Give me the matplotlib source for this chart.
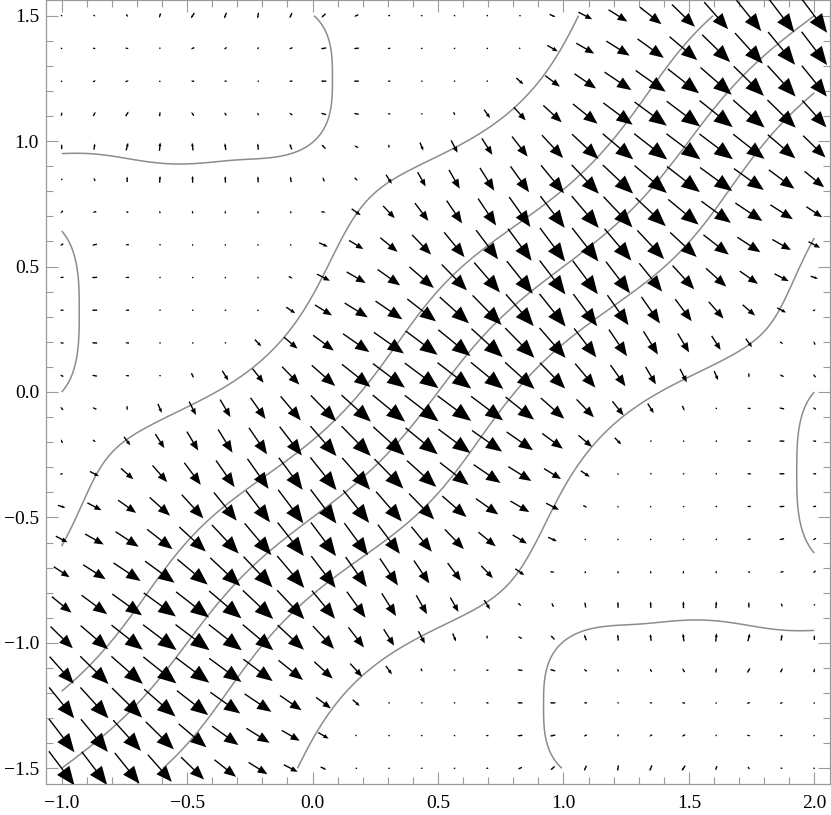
import numpy as np
import matplotlib
matplotlib.use("Agg")
import matplotlib.pyplot as plt
from matplotlib.ticker import MultipleLocator, FuncFormatter

# sample points of the arrows (24 x 24, as in the picture)
grid_x = np.linspace(-1.0, 2.0, 24)
grid_y = np.linspace(-1.5, 1.5, 24)

# ridge of the field
band_shift = 0.5      # centre contour runs along y = x - 0.5
band_sigma = 1.15     # distance from the centre where the arrows die out
wiggle_mid = 0.045    # sideways wiggle of the inner contours
wiggle_edge = 0.06    # extra wiggle of the outer contours
contour_levels = [-0.668, -0.334, 0.0, 0.334, 0.668]

# shallow dips in the upper-left corner (mirrored into the lower-right one)
bump_x = [-0.3, -1.1, -1.2]
bump_y = [1.25, 1.45, 0.32]
bump_rx = [0.45, 0.6, 0.383]
bump_ry = [0.38, 0.51, 0.54]
bump_pow = [3, 4, 3]
bump_amp = [0.0537, 0.0537, 0.0419]

x_ticks = [-1.0, -0.5, 0.0, 0.5, 1.0, 1.5, 2.0]
y_ticks = [-1.5, -1.0, -0.5, 0.0, 0.5, 1.0, 1.5]


def ridge(d):
    inside = np.abs(d) < band_sigma
    top = band_sigma * np.exp(-0.5)
    return np.where(inside, d * np.exp(-d**2 / (2 * band_sigma**2)), np.sign(d) * top)


def bumps(x, y):
    g = np.zeros_like(x)
    for x0, y0, rx, ry, p, amp in zip(bump_x, bump_y, bump_rx, bump_ry, bump_pow, bump_amp):
        q = np.abs((x - x0) / rx)**p + np.abs((y - y0) / ry)**p
        g = g - amp * np.exp(-q)
    return g


def phi(x, y):
    d0 = y - x + band_shift
    a = wiggle_mid + wiggle_edge * np.minimum(d0**2, 1.44) / 0.865
    d = d0 - a * np.sin(np.pi * (x + y - 0.5))
    return ridge(d) + bumps(x, y) - bumps(1 - x, -y)


def fmt(v, pos):
    if abs(v) < 1e-9:
        v = 0.0
    return ("%.1f" % v).replace("-", "\u2212")


plt.rcParams['font.family'] = ['Liberation Serif', 'DejaVu Serif']

fig = plt.figure(figsize=(8.31, 8.15), dpi=100)
ax = fig.add_axes([46/831, 31/815, 784/831, 784/815])

# contour lines
cx = np.linspace(-1.0, 2.0, 601)
cy = np.linspace(-1.5, 1.5, 601)
CX, CY = np.meshgrid(cx, cy)
ax.contour(CX, CY, phi(CX, CY), levels=contour_levels, colors='#8c8c8c',
           linewidths=1.1, linestyles='solid')

# arrows = minus gradient
GX, GY = np.meshgrid(grid_x, grid_y)
h = 1e-4
U = -(phi(GX + h, GY) - phi(GX - h, GY)) / (2*h)
V = -(phi(GX, GY + h) - phi(GX, GY - h)) / (2*h)
mag = np.hypot(U, V)
max_len = 0.17
for x, y, u, v, m in zip(GX.ravel(), GY.ravel(), U.ravel(), V.ravel(), mag.ravel()):
    L = max_len * (m / mag.max())**0.85
    if m > 0:
        ux, uy = u / m, v / m
    else:
        ux, uy = 1.0, 0.0
    L = max(L, 0.007)
    dx, dy = L * ux, L * uy
    ax.arrow(x - dx/2, y - dy/2, dx, dy, width=0.0055,
             head_width=max(0.36*L, 0.0055), head_length=0.44*L,
             length_includes_head=True, fc='black', ec='none', zorder=3)

ax.set_xlim(-1.0625, 2.0625)
ax.set_ylim(-1.5625, 1.5625)
ax.set_xticks(x_ticks)
ax.set_yticks(y_ticks)
ax.xaxis.set_minor_locator(MultipleLocator(0.1))
ax.yaxis.set_minor_locator(MultipleLocator(0.1))
ax.xaxis.set_major_formatter(FuncFormatter(fmt))
ax.yaxis.set_major_formatter(FuncFormatter(fmt))
for s in ax.spines.values():
    s.set_color('#9a9a9a')
    s.set_linewidth(0.9)
ax.tick_params(which='both', direction='in', top=True, right=True,
               color='#9a9a9a', width=0.8, labelsize=14, labelcolor='black')
ax.tick_params(which='major', length=8.5)
ax.tick_params(which='minor', length=5.2)
ax.tick_params(axis='x', pad=8)
ax.tick_params(axis='y', pad=5)

fig.savefig("out.png", dpi=100)
